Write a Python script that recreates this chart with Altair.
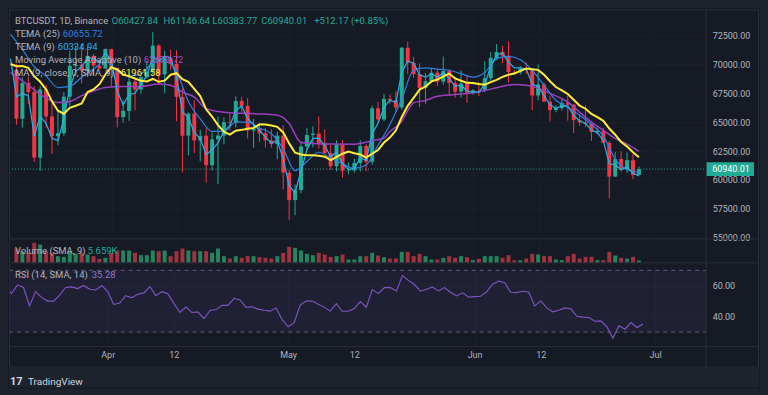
import altair as alt
import pandas as pd

try:
    import jinja2
except Exception:
    jinja2 = None

# ---------------- style ----------------
FONT = "Roboto"
BG = "#161a25"
OUTER = "#1e222d"
GRID = "#1c202b"
SEP = "#2a2e39"
AXT = "#b2b5be"
TITLE = "#b2b5be"
UP = "#22ab94"
DOWN = "#f23645"
VUP = "#22855f"
VDOWN = "#a1323f"
C_T25 = "#2f7fe0"
C_T9 = "#2ab0e6"
C_MAA = "#9c3fbf"
C_MA = "#ffeb3b"
C_RSI = "#7e57c2"

W, FW = 699, 752           # plot width, full panel width
HP, HV, HR, HT = 230, 24, 84, 21

# ---------------- data ----------------
START = pd.Timestamp("2024-03-16")
days = pd.date_range(START, "2024-06-29", freq="D")

opens = [69499, 65300, 68390, 67610, 61930, 67840, 65501, 63796, 64037, 67210, 69880, 69988, 69452, 70744, 69893, 69647,
         71333, 69705, 65446, 65975, 68508, 67840, 68897, 69362, 71632, 69140, 70587, 70061, 67189, 63836, 65739, 63419,
         63831, 61275, 63511, 63844, 64992, 64935, 66839, 66408, 64275, 64485, 64034, 63427, 63113, 63841,
         60629, 58254, 59123, 62892, 63892, 64013, 63163, 62313, 61192, 63075, 60799, 60826, 61484, 62941, 61577, 66207,
         65235, 67024, 66915, 66274, 71446, 70148, 69166, 67969, 68549, 69290, 68508, 69436, 68398, 67652, 68352,
         67541, 67766, 67765, 68810, 70567, 71082, 70757, 69343, 69306, 69648, 69508, 67314, 68264, 66773, 66044, 66228,
         66676, 66505, 65176, 64974, 64869, 64143, 64262, 63210, 60293, 61806, 60864, 61707, 60427.84]
highs = [70043, 68904, 68957, 68125, 68100, 68240, 66650, 65999, 67622, 71150, 71561, 71769, 71552, 70913, 70355, 71377,
         71342, 69708, 66915, 69291, 68725, 69000, 70327, 72797, 71758, 71172, 71277, 71227, 67932, 65840, 66878, 64365,
         64486, 64125, 65481, 65419, 65723, 67233, 67199, 67075, 65275, 64789, 64493, 64361, 64174, 64734,
         60861, 59602, 63321, 64494, 64646, 65500, 64390, 62999, 63421, 63469, 61515, 61818, 63450, 63102, 66444, 66752,
         67451, 67400, 67700, 71515, 71979, 70666, 70096, 69250, 69610, 69562, 70687, 69591, 68935, 69500, 69044,
         67857, 68460, 70288, 71063, 71758, 71625, 71997, 69521, 69878, 70196, 69565, 69999, 68449, 67304, 66459, 66997,
         67298, 66587, 65728, 66482, 65067, 64546, 64521, 63369, 62435, 62487, 62389, 62225, 61146.64]
lows = [64780, 64533, 66600, 61555, 60775, 64529, 62260, 63000, 63825, 66385, 69280, 68359, 68903, 69076, 69570, 69624,
        68110, 64550, 64960, 65113, 66011, 67438, 68790, 69040, 68211, 67518, 69567, 65086, 60660, 62134, 62332, 61600,
        59768, 60833, 59651, 63088, 64277, 64549, 65864, 63589, 62784, 63322, 62800, 62793, 61795, 59191,
        56552, 56937, 58848, 62600, 62822, 62700, 62281, 60888, 60744, 60188, 60487, 60632, 60750, 60760, 61320, 64986,
        65106, 66600, 65857, 66060, 69163, 68843, 66312, 66600, 68500, 68128, 68250, 67277, 67124, 67128, 66670,
        67386, 67257, 67612, 68567, 70383, 70119, 68420, 69129, 69124, 69160, 66051, 66902, 66770, 65078, 65858, 66000,
        65131, 64060, 64693, 64559, 63379, 63943, 63178, 58402, 60257, 60712, 60606, 60063, 60383.77]
closes = [65300, 68393, 67609, 61937, 67840, 65501, 63797, 64037, 67211, 69880, 69987, 69455, 70744, 69892, 69645, 71333,
          69702, 65446, 65980, 68508, 67837, 68896, 69362, 71631, 69139, 70587, 70060, 67195, 63821, 65738, 63426, 63811,
          61276, 63512, 63843, 64994, 64927, 66837, 66408, 64277, 64482, 64034, 63427, 63113, 63842, 60637,
          58254, 59123, 62889, 63892, 64013, 63165, 62312, 61193, 63075, 60799, 60826, 61484, 62941, 61577, 66206, 65235,
          67024, 66915, 66274, 71446, 70148, 69166, 67969, 68549, 69290, 68508, 69436, 68398, 67652, 68352, 67540,
          67766, 67765, 68810, 70567, 71082, 70757, 69343, 69306, 69648, 69508, 67314, 68264, 66773, 66044, 66228, 66676,
          66505, 65176, 64974, 64869, 64143, 64262, 63210, 60293, 61806, 60864, 61707, 60427.84, 60940.01]
volumes_k = [34.8, 28.4, 24.3, 48.6, 44.6, 28.4, 24.3, 16.2, 14.6, 28.4, 22.7, 24.3, 20.3, 16.2, 9.7, 12.2, 24.3, 30.0,
             30.0, 30.0, 24.3, 18.6, 18.6, 30.0, 28.4, 30.0, 16.2, 28.4, 34.8, 30.0, 28.4, 28.4, 28.4, 24.3, 34.8, 16.2,
             10.5, 16.2, 12.2, 16.2, 16.2, 13.8, 12.2, 10.5, 16.2, 24.3, 38.9, 36.5, 30.0, 21.9, 18.6, 24.3, 20.3, 14.6,
             16.2, 20.3, 8.1, 8.1, 16.2, 16.2, 24.3, 17.8, 13.8, 10.5, 10.5, 26.7, 26.7, 16.2, 21.9, 16.2, 8.1, 8.1,
             12.2, 16.2, 12.2, 16.2, 13.8, 6.5, 9.7, 16.2, 16.2, 16.2, 12.2, 18.6, 6.5, 6.5, 10.5, 21.9, 20.3, 16.2,
             16.2, 8.1, 6.5, 16.2, 21.9, 10.5, 14.6, 14.6, 6.5, 6.5, 26.7, 17.8, 12.2, 10.5, 14.6, 5.659]

# daily indicator readings, 2024-03-15 .. 2024-06-29
ind_days = pd.date_range("2024-03-15", "2024-06-29", freq="D")
ma9 = [70037, 69855, 69864, 69714, 68972, 68499, 67838, 66807, 65990, 65736, 66245, 66422, 66627, 67606, 67834, 68294, 69132,
       69761, 69565, 69132, 68967, 68787, 68582, 68523, 68744, 68500, 68598, 69111, 69246, 68725, 68492, 67884, 67268,
       66117, 65492, 64742, 64180, 63928, 64263, 64337, 64432, 64506, 64813, 64803, 64722, 64594, 64117,
       63164, 62354, 62200, 62135, 62132, 62103, 62014, 61720, 61991, 62273, 62463, 62307, 62201, 61930, 62268, 62593,
       63241, 63667, 64276, 65456, 66418, 67110, 67820, 68081, 68531, 68696, 68976, 69212, 68791, 68591, 68410,
       68388, 68301, 68247, 68476, 68659, 68921, 69109, 69215, 69449, 69643, 69593, 69532, 69111, 68551, 68048, 67751,
       67440, 66943, 66439, 66168, 65710, 65431, 65116, 64456, 63915, 63289, 62903, 62398, 61961.58]
tema9 = [70500, 67200, 67500, 67300, 63800, 65500, 64900, 63600, 63400, 65300, 68000, 69400, 69800, 70600, 70500, 70200, 71000,
         70400, 67700, 66500, 67400, 67500, 68300, 69000, 70700, 70300, 70700, 70600, 68900, 65900, 65400, 64100, 63600,
         62200, 62600, 63200, 64200, 64700, 66000, 66400, 65300, 64800, 64300, 63700, 63200, 63400, 61800,
         59500, 58900, 60800, 62600, 63600, 63600, 63000, 62000, 62400, 61400, 60900, 61000, 61900, 61700, 64000, 64900,
         66300, 66900, 66700, 69300, 70300, 70100, 69100, 68900, 69200, 68900, 69300, 68800, 68100, 68200, 67700,
         67600, 67600, 68300, 69800, 70800, 71000, 70200, 69700, 69700, 69600, 68300, 68100, 67300, 66500, 66200, 66400,
         66400, 65600, 65100, 64900, 64300, 64100, 63400, 61400, 61300, 60900, 61100, 60600, 60334.94]
rsi = [59.0, 55.0, 60.6, 58.9, 47.0, 56.2, 52.5, 50.1, 50.1, 54.0, 58.9, 59.3, 58.2, 60.2, 57.8, 57.3, 60.2,
       56.2, 47.9, 48.8, 53.6, 52.3, 54.5, 55.4, 59.5, 53.6, 56.2, 54.9, 48.6, 42.7, 46.2, 42.7, 43.1, 38.7, 44.0,
       44.6, 47.3, 47.3, 51.9, 50.8, 46.0, 46.4, 44.9, 44.2, 43.6, 45.7, 38.1,
       33.5, 36.1, 47.5, 50.1, 50.1, 48.1, 46.2, 43.6, 48.5, 43.5, 43.5, 45.3, 49.8, 46.1, 57.5, 54.9, 58.8, 58.8,
       56.7, 66.6, 63.5, 60.8, 56.5, 57.7, 59.2, 56.7, 58.8, 55.8, 53.4, 55.4, 52.6,
       53.0, 53.2, 56.0, 61.0, 63.1, 62.0, 55.8, 55.6, 56.5, 56.0, 47.0, 50.2, 45.7, 43.1, 44.2, 45.7, 45.1, 40.3,
       39.7, 39.5, 37.1, 37.3, 33.4, 26.1, 34.1, 31.9, 36.2, 33.0, 35.28]

tema25_dates = ["2024-03-15", "2024-03-17", "2024-03-19", "2024-03-21", "2024-03-23", "2024-03-25", "2024-03-27",
                "2024-03-29", "2024-03-31", "2024-04-02", "2024-04-04", "2024-04-06", "2024-04-08", "2024-04-10",
                "2024-04-12", "2024-04-14", "2024-04-16", "2024-04-18", "2024-04-20", "2024-04-22", "2024-04-24",
                "2024-04-26", "2024-04-28", "2024-04-30", "2024-05-02", "2024-05-04", "2024-05-06", "2024-05-08",
                "2024-05-10", "2024-05-12", "2024-05-14", "2024-05-16", "2024-05-18", "2024-05-20", "2024-05-22",
                "2024-05-24", "2024-05-26", "2024-05-28", "2024-05-30", "2024-06-01", "2024-06-03", "2024-06-05",
                "2024-06-07", "2024-06-09", "2024-06-11", "2024-06-13", "2024-06-15", "2024-06-17", "2024-06-19",
                "2024-06-21", "2024-06-23", "2024-06-25", "2024-06-27", "2024-06-29"]
tema25_vals = [72600, 71300, 69800, 69000, 68000, 68100, 68900, 69600, 70300, 69400, 69000, 69200, 70100, 70300,
               69400, 66800, 65300, 64200, 64200, 65000, 65000, 64500, 64000, 62700, 60800, 61600, 62400, 61900,
               61400, 61000, 61300, 63000, 64800, 67000, 69500, 69700, 69600, 69500, 69200, 68900, 69300, 70500,
               70700, 70400, 69500, 68200, 66900, 66300, 65600, 64800, 63800, 61800, 60900, 60655.72]

maa_dates = ["2024-03-15", "2024-03-17", "2024-03-19", "2024-03-21", "2024-03-23", "2024-03-25", "2024-03-27",
             "2024-03-29", "2024-03-31", "2024-04-03", "2024-04-06", "2024-04-09", "2024-04-11", "2024-04-13",
             "2024-04-15", "2024-04-17", "2024-04-20", "2024-04-23", "2024-04-26", "2024-04-29", "2024-04-30",
             "2024-05-01", "2024-05-03", "2024-05-05", "2024-05-08", "2024-05-12", "2024-05-15", "2024-05-17",
             "2024-05-18", "2024-05-20", "2024-05-21", "2024-05-22", "2024-05-24", "2024-05-26", "2024-05-29",
             "2024-06-01", "2024-06-03", "2024-06-05", "2024-06-08", "2024-06-10", "2024-06-12", "2024-06-14",
             "2024-06-17", "2024-06-19", "2024-06-21", "2024-06-23", "2024-06-25", "2024-06-27", "2024-06-29"]
maa_vals = [69300, 68600, 67800, 67100, 66700, 66800, 67300, 67700, 68000, 68100, 68100, 68300, 68200, 67600,
            67170, 66180, 65860, 65770, 65720, 65600, 65400, 64880, 63250, 63160, 63110, 63100, 63400, 63630,
            64200, 65080, 66000, 66680, 66880, 67250, 67400, 67550, 67750, 67980, 68270, 68190, 67950, 67500,
            66730, 65860, 65000, 64300, 63600, 63100, 62478.72]

price_ticks = [55000, 57500, 60000, 62500, 65000, 67500, 70000, 72500]
rsi_ticks = [40, 60]
rsi_bands = [70, 30]
tick_dates = ["2024-04-01", "2024-04-12", "2024-05-01", "2024-05-12", "2024-06-01", "2024-06-12", "2024-07-01"]
tick_labels = ["Apr", "12", "May", "12", "Jun", "12", "Jul"]


def day_index(d):
    return (pd.Timestamp(d) - START).days


tick_pos = [day_index(d) for d in tick_dates]
label_expr = " : ".join(f"datum.value == {p} ? '{l}'" for p, l in zip(tick_pos, tick_labels)) + " : ''"

candles = pd.DataFrame({"i": [day_index(d) for d in days], "open": opens, "high": highs,
                        "low": lows, "close": closes, "volume": volumes_k})
ind = pd.DataFrame({"i": [day_index(d) for d in ind_days], "ma9": ma9, "tema9": tema9, "rsi": rsi})
t25 = pd.DataFrame({"i": [day_index(d) for d in tema25_dates], "v": tema25_vals})
maa = pd.DataFrame({"i": [day_index(d) for d in maa_dates], "v": maa_vals})
one = pd.DataFrame({"k": [0]})

last_close = closes[-1]
chg = closes[-1] - closes[-2]
pct = chg / closes[-2] * 100

# ---------------- scales & axes ----------------
xscale = alt.Scale(domain=[-0.415, 115.5], nice=False, zero=False)
pscale = alt.Scale(domain=[54896, 74758], nice=False, zero=False)
vscale = alt.Scale(domain=[0, 58.3], nice=False, zero=True)
rscale = alt.Scale(domain=[20.65, 74.84], nice=False, zero=False)

xgrid = alt.Axis(values=tick_pos, labels=False, ticks=False, domain=False, grid=True,
                 gridColor=GRID, title=None)
price_axis = alt.Axis(orient="right", values=price_ticks, format=".2f", labelColor=AXT, labelFontSize=9,
                      labelFont=FONT, ticks=False, domain=False, grid=True, gridColor=GRID,
                      labelPadding=6, labelOverlap=False, title=None)
time_axis = alt.Axis(values=tick_pos, labelExpr=label_expr, labelColor=AXT, labelFontSize=9, labelFont=FONT,
                     ticks=False, domain=False, grid=True, gridColor=GRID, labelPadding=4,
                     labelOverlap=False, title=None)
rsi_axis = alt.Axis(orient="right", values=rsi_ticks, format=".2f", labelColor=AXT, labelFontSize=9,
                    labelFont=FONT, ticks=False, domain=False, grid=True, gridColor=GRID,
                    labelPadding=6, labelOverlap=False, title=None)

PX = alt.X("i:Q", scale=xscale, axis=xgrid)
updown = alt.condition("datum.close >= datum.open", alt.value(UP), alt.value(DOWN))
vupdown = alt.condition("datum.close >= datum.open", alt.value(VUP), alt.value(VDOWN))


def py(field):
    return alt.Y(f"{field}:Q", scale=pscale, axis=price_axis)


def pdatum(v):
    return alt.YDatum(v, scale=pscale, axis=price_axis)


def rdatum(v):
    return alt.YDatum(v, scale=rscale, axis=rsi_axis)


def text(txt, x, y, color, size=9.5, weight="normal"):
    return alt.Chart(one).mark_text(text=txt, font=FONT, fontSize=size, color=color, align="left",
                                    baseline="middle", fontWeight=weight).encode(
        x=alt.value(x), y=alt.value(y))


def hline(y, x1=0, x2=FW, color=SEP):
    return alt.Chart(one).mark_rule(color=color, strokeWidth=1).encode(
        x=alt.value(x1), x2=alt.value(x2), y=alt.value(y))


def vline(x, y1, y2, color=SEP):
    return alt.Chart(one).mark_rule(color=color, strokeWidth=1).encode(
        x=alt.value(x), y=alt.value(y1), y2=alt.value(y2))


def pline(df, field, color, width, interp="linear"):
    return alt.Chart(df).mark_line(color=color, strokeWidth=width, clip=True, interpolate=interp).encode(
        x=PX, y=py(field))


# ---------------- price pane ----------------
wicks = alt.Chart(candles).mark_rule(strokeWidth=1).encode(x=PX, y=py("low"), y2="high:Q", color=updown)
bodies = alt.Chart(candles).mark_bar(width=4).encode(x=PX, y=py("open"), y2="close:Q", color=updown)

price_dots = alt.Chart(one).mark_rule(color=UP, strokeDash=[1, 2], strokeWidth=1).encode(
    x=alt.value(0), x2=alt.value(W), y=pdatum(last_close))
price_box = alt.Chart(one).mark_rect(color=UP).encode(
    x=alt.value(W), x2=alt.value(W + 48),
    y=pdatum(last_close + 600), y2=alt.Y2Datum(last_close - 600))
price_txt = alt.Chart(one).mark_text(text=f"{last_close:.2f}", font=FONT, fontSize=9, color="#ffffff",
                                     align="left", baseline="middle").encode(
    x=alt.value(W + 6), y=pdatum(last_close))

legend = [
    text("BTCUSDT, 1D, Binance", 6, 12, TITLE),
    text(f"O{opens[-1]:.2f}", 103, 12, UP),
    text(f"H{highs[-1]:.2f}", 155, 12, UP),
    text(f"L{lows[-1]:.2f}", 204, 12, UP),
    text(f"C{closes[-1]:.2f}", 253, 12, UP),
    text(f"{chg:+.2f} ({pct:+.2f}%)", 306, 12, UP),
    text("TEMA (25)", 6, 25, TITLE), text(f"{tema25_vals[-1]:.2f}", 54, 25, C_T25),
    text("TEMA (9)", 6, 38, TITLE), text(f"{tema9[-1]:.2f}", 49, 38, C_T9),
    text("Moving Average Adaptive (10)", 6, 51, TITLE), text(f"{maa_vals[-1]:.2f}", 135, 51, "#ab47bc"),
    text("MA (9, close, 0, SMA, 9)", 6, 64, TITLE), text(f"{ma9[-1]:.2f}", 112, 64, C_MA),
]
price_borders = [hline(0.5), hline(HP), vline(0.5, 0, HP), vline(FW - 0.5, 0, HP), vline(W, 0, HP)]

price = alt.layer(
    wicks, bodies,
    pline(maa, "v", C_MAA, 1.5, "monotone"),
    pline(t25, "v", C_T25, 1.2, "monotone"),
    pline(ind, "tema9", C_T9, 1.2),
    pline(ind, "ma9", C_MA, 2),
    price_dots, price_box, price_txt,
    *legend, *price_borders,
).properties(width=W, height=HP)

# ---------------- volume pane ----------------
vbars = alt.Chart(candles).mark_bar(width=4).encode(
    x=PX, y=alt.Y("volume:Q", scale=vscale, axis=None), color=vupdown)
vol = alt.layer(
    vbars,
    text("Volume (SMA, 9)", 6, 12, TITLE),
    text(f"{volumes_k[-1]:.3f}K", 79, 12, UP),
    hline(HV), vline(0.5, 0, HV), vline(FW - 0.5, 0, HV), vline(W, 0, HV),
).properties(width=W, height=HV)

# ---------------- RSI pane ----------------
rsi_line = alt.Chart(ind).mark_line(color=C_RSI, strokeWidth=1.1, clip=True).encode(
    x=alt.X("i:Q", scale=xscale, axis=time_axis),
    y=alt.Y("rsi:Q", scale=rscale, axis=rsi_axis))
band = alt.Chart(one).mark_rect(color=C_RSI, opacity=0.1).encode(
    x=alt.value(0), x2=alt.value(W), y=rdatum(rsi_bands[0]), y2=alt.Y2Datum(rsi_bands[1]))
band_lines = [
    alt.Chart(one).mark_rule(color="#787b86", strokeDash=[4, 4], strokeWidth=1, opacity=0.7).encode(
        x=alt.value(0), x2=alt.value(W), y=rdatum(b))
    for b in rsi_bands
]
logo_band = alt.Chart(one).mark_rect(color=OUTER).encode(
    x=alt.value(0), x2=alt.value(FW), y=alt.value(HR + HT), y2=alt.value(HR + HT + 20))
rsi_pane = alt.layer(
    band, *band_lines, rsi_line,
    text("RSI (14, SMA, 14)", 6, 12, TITLE),
    text(f"{rsi[-1]:.2f}", 83, 12, "#9575cd"),
    hline(HR), hline(HR + HT - 0.5),
    vline(0.5, 0, HR + HT), vline(FW - 0.5, 0, HR + HT), vline(W, 0, HR + HT),
    logo_band,
    text("17", 1, HR + HT + 14, "#d1d4dc", size=11, weight="bold"),
    text("TradingView", 19, HR + HT + 14, "#d1d4dc", size=10),
).properties(width=W, height=HR)

chart = alt.vconcat(price, vol, rsi_pane, spacing=0, bounds="flush").properties(
    padding=0, background=BG
).configure_view(stroke="transparent").configure_axis(labelOverlap=False)

TPL = """<!DOCTYPE html>
<html>
<head>
<style>
  html, body { background: #1e222d; }
  body { margin: 8px; }
  #{{ output_div }}.vega-embed { width: 100%; display: flex; }
</style>
<script type="text/javascript" src="{{ base_url }}/vega@{{ vega_version }}"></script>
<script type="text/javascript" src="{{ base_url }}/vega-lite@{{ vegalite_version }}"></script>
<script type="text/javascript" src="{{ base_url }}/vega-embed@{{ vegaembed_version }}"></script>
</head>
<body>
<div id="{{ output_div }}"></div>
<script>
(function(vegaEmbed) {
  var spec = {{ spec }};
  var embedOpt = {{ embed_options }};
  function showError(el, error){
    el.innerHTML = ('<div style="color:red;"><p>JavaScript Error: ' + error.message + '</p></div>');
    throw error;
  }
  const el = document.getElementById('{{ output_div }}');
  vegaEmbed("#{{ output_div }}", spec, embedOpt).catch(error => showError(el, error));
})(vegaEmbed);
</script>
</body>
</html>
"""

saved = False
if jinja2 is not None:
    try:
        chart.save("out.html", embed_options={"renderer": "svg", "actions": False},
                   template=jinja2.Template(TPL))
        saved = True
    except Exception:
        saved = False
if not saved:
    chart.save("out.html", embed_options={"renderer": "svg", "actions": False})
